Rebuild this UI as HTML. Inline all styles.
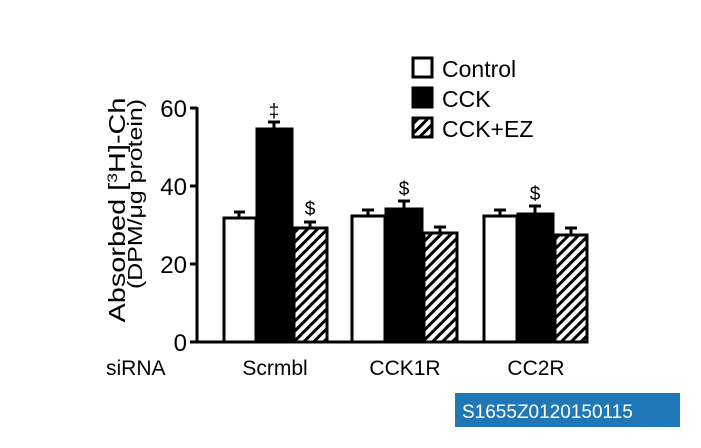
<!DOCTYPE html>
<html><head><style>body{margin:0;background:#fff}svg{display:block}</style></head>
<body>
<svg width="701" height="448" viewBox="0 0 701 448" xmlns="http://www.w3.org/2000/svg" font-family="Liberation Sans, Arial, sans-serif">
<defs>
<pattern id="h" patternUnits="userSpaceOnUse" width="7" height="7" patternTransform="rotate(45)">
<rect width="7" height="7" fill="#fff"/><rect width="3" height="7" fill="#000"/>
</pattern>
</defs>
<g stroke="#000" stroke-width="3">
<line x1="197" y1="107" x2="197" y2="343"/>
<line x1="190" y1="342" x2="588" y2="342"/>
<line x1="190" y1="108" x2="197" y2="108"/>
<line x1="190" y1="186" x2="197" y2="186"/>
<line x1="190" y1="264" x2="197" y2="264"/>
</g>
<g font-size="24" text-anchor="end">
<text x="187" y="117">60</text><text x="187" y="195">40</text><text x="187" y="273">20</text><text x="187" y="351">0</text>
</g>
<text transform="translate(125,210) rotate(-90)" font-size="23" text-anchor="middle" textLength="225" lengthAdjust="spacingAndGlyphs">Absorbed [<tspan font-size="14" dy="-8">3</tspan><tspan dy="8">H]-Ch</tspan></text>
<text transform="translate(142,194) rotate(-90)" font-size="20" text-anchor="middle" textLength="190" lengthAdjust="spacingAndGlyphs">(DPM/μg protein)</text>
<g stroke="#000" stroke-width="3">
<line x1="239" y1="217" x2="239" y2="212"/><line x1="234" y1="212" x2="245" y2="212"/>
<line x1="274" y1="128" x2="274" y2="122"/><line x1="268" y1="122" x2="280" y2="122"/>
<line x1="310" y1="227" x2="310" y2="222"/><line x1="304" y1="222" x2="316" y2="222"/>
<line x1="368" y1="215" x2="368" y2="210"/><line x1="362" y1="210" x2="374" y2="210"/>
<line x1="404" y1="208" x2="404" y2="201"/><line x1="398" y1="201" x2="410" y2="201"/>
<line x1="440" y1="232" x2="440" y2="227"/><line x1="434" y1="227" x2="446" y2="227"/>
<line x1="500" y1="215" x2="500" y2="210"/><line x1="494" y1="210" x2="506" y2="210"/>
<line x1="535" y1="213" x2="535" y2="206"/><line x1="529" y1="206" x2="541" y2="206"/>
<line x1="571" y1="234" x2="571" y2="228"/><line x1="565" y1="228" x2="577" y2="228"/>
</g>
<g stroke="#000" stroke-width="3">
<rect x="224" y="218" width="32" height="124" fill="#fff"/>
<rect x="257" y="129" width="35" height="213" fill="#000"/>
<rect x="294" y="228" width="33" height="114" fill="url(#h)"/>
<rect x="352" y="216" width="33" height="126" fill="#fff"/>
<rect x="386" y="209" width="36" height="133" fill="#000"/>
<rect x="424" y="233" width="33" height="109" fill="url(#h)"/>
<rect x="484" y="216" width="33" height="126" fill="#fff"/>
<rect x="518" y="214" width="35" height="128" fill="#000"/>
<rect x="555" y="235" width="32" height="107" fill="url(#h)"/>
</g>
<g font-size="19" text-anchor="middle">
<text x="274" y="117">‡</text><text x="310" y="215">$</text><text x="404" y="195">$</text><text x="535" y="200">$</text>
</g>
<g stroke="#000" stroke-width="3">
<rect x="413" y="58" width="19" height="19" fill="#fff"/>
<rect x="413" y="88" width="19" height="19" fill="#000"/>
<rect x="413" y="118" width="19" height="19" fill="url(#h)"/>
</g>
<g font-size="23">
<text x="442" y="77">Control</text><text x="442" y="107">CCK</text><text x="442" y="137">CCK+EZ</text>
</g>
<g font-size="21">
<text x="106" y="375">siRNA</text>
<text x="275" y="375" text-anchor="middle">Scrmbl</text>
<text x="405" y="375" text-anchor="middle">CCK1R</text>
<text x="536" y="375" text-anchor="middle">CC2R</text>
</g>
<rect x="455" y="393" width="225" height="34" fill="#1f77b8"/>
<text x="462" y="418" font-size="19" fill="#fff">S1655Z0120150115</text>
</svg>
</body></html>
